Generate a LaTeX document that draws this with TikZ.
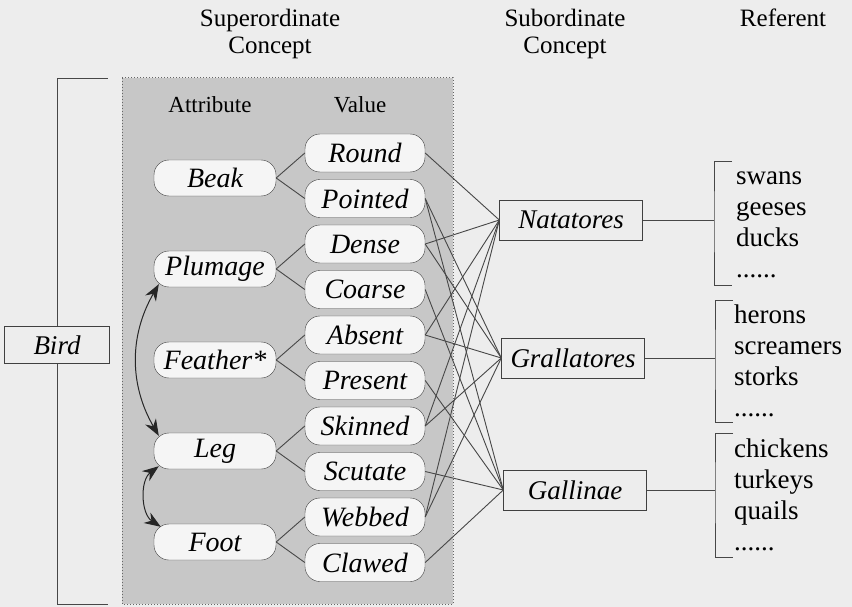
\documentclass[tikz,border=0pt]{standalone}
\usepackage{fontspec}
\setmainfont{Liberation Serif}
\usetikzlibrary{arrows.meta,positioning}

\begin{document}
\begin{tikzpicture}[x=1pt,y=-1pt,node distance=45.5pt,auto]
\tikzstyle{attr}=[rectangle, draw=black!75, fill=black!4, rounded corners=15pt, minimum width=122pt, minimum height=36pt, inner sep=2pt, font=\fontsize{28}{30}\selectfont\itshape]
\tikzstyle{val}=[attr, minimum width=120pt, minimum height=38pt]
\tikzstyle{sub}=[rectangle, draw=black!75, minimum width=143pt, minimum height=40pt, inner sep=2pt, font=\fontsize{27}{30}\selectfont\itshape]
\tikzstyle{head}=[align=center, inner sep=0pt, anchor=north, font=\fontsize{25}{27}\selectfont]
\tikzstyle{referent}=[align=left, inner sep=0pt, anchor=north west, font=\fontsize{27}{31}\selectfont]
\tikzstyle{link}=[draw=black!72, line width=0.9pt]
\tikzstyle{twoway}=[draw=black!85, line width=1pt]

\fill[black!7] (0,0) rectangle (852,607);
\useasboundingbox (0,0) rectangle (852,607);

% shaded block of the superordinate concept
\draw[black!60, dotted, line width=1pt, fill=black!22] (122,78) rectangle (453,604);

\node[head] (superhead) at (270,9) {Superordinate\\Concept};
\node[head] (subhead) at (565,9) {Subordinate\\Concept};
\node[head] (refhead) at (783,9) {Referent};
\node[font=\fontsize{23}{25}\selectfont] (attrhead) at (210,105) {Attribute};
\node[font=\fontsize{23}{25}\selectfont] (valhead) at (360,105) {Value};

\node[sub, minimum width=105pt, minimum height=37pt] (bird) at (57,345) {Bird};
\coordinate (birdtop) at (108,78);
\coordinate (birdbot) at (108,604);
\draw[link] (bird.north) |- (birdtop);
\draw[link] (bird.south) |- (birdbot);

% attributes
\node[attr] (beak) at (215,178) {Beak};
\node[attr, below of=beak, node distance=91pt] (plumage) {Plumage};
\node[attr, below of=plumage, node distance=91pt] (feather) {Feather*};
\node[attr, below of=feather, node distance=91pt] (leg) {Leg};
\node[attr, below of=leg, node distance=91pt] (foot) {Foot};

% values
\node[val] (round) at (365,153) {Round};
\node[val, below of=round] (pointed) {Pointed};
\node[val, below of=pointed] (dense) {Dense};
\node[val, below of=dense] (coarse) {Coarse};
\node[val, below of=coarse] (absent) {Absent};
\node[val, below of=absent] (present) {Present};
\node[val, below of=present] (skinned) {Skinned};
\node[val, below of=skinned] (scutate) {Scutate};
\node[val, below of=scutate] (webbed) {Webbed};
\node[val, below of=webbed] (clawed) {Clawed};

% subordinate concepts
\node[sub] (nat) at (571,220) {Natatores};
\node[sub] (gral) at (573,358) {Grallatores};
\node[sub] (gall) at (575,490) {Gallinae};

\path[link] (beak.east) edge (round.west)
                edge (pointed.west)
          (plumage.east) edge (dense.west)
                edge (coarse.west)
          (feather.east) edge (absent.west)
                edge (present.west)
          (leg.east) edge (skinned.west)
                edge (scutate.west)
          (foot.east) edge (webbed.west)
                edge (clawed.west);

\path[link] (round.east) edge (nat.west)
          (pointed.east) edge (gral.west)
                edge (gall.west)
          (dense.east) edge (nat.west)
                edge (gral.west)
          (coarse.east) edge (gall.west)
          (absent.east) edge (nat.west)
                edge (gral.west)
          (present.east) edge (gall.west)
          (skinned.east) edge (nat.west)
                edge (gral.west)
          (scutate.east) edge (gall.west)
          (webbed.east) edge (nat.west)
                edge (gral.west)
          (clawed.east) edge (gall.west);

\draw[twoway, {Stealth[scale=2.2]}-{Stealth[scale=2.2]}] ([xshift=5pt,yshift=3pt]plumage.south west) to[bend right=30] ([xshift=5pt,yshift=-3pt]leg.north west);
\draw[twoway, {Stealth[scale=2.2]}-{Stealth[scale=2.2]}] ([xshift=5pt,yshift=3pt]leg.south west) to[bend right=55] ([xshift=7pt,yshift=-3pt]foot.north west);

% referents
\coordinate (natmid) at (714,220);
\coordinate (nattop) at (732,161);
\coordinate (natbot) at (732,285);
\draw[link] (nat.east) -- (natmid);
\draw[link] (nattop) -| (natmid) |- (natbot);
\node[referent] (natref) at (736,172) {swans\\geeses\\ducks\\......};

\coordinate (gralmid) at (715,358);
\coordinate (graltop) at (733,300);
\coordinate (gralbot) at (733,422);
\draw[link] (gral.east) -- (gralmid);
\draw[link] (graltop) -| (gralmid) |- (gralbot);
\node[referent] (gralref) at (734,305) {herons\\screamers\\storks\\......};

\coordinate (gallmid) at (715,490);
\coordinate (galltop) at (733,433);
\coordinate (gallbot) at (733,557);
\draw[link] (gall.east) -- (gallmid);
\draw[link] (galltop) -| (gallmid) |- (gallbot);
\node[referent] (gallref) at (734,439) {chickens\\turkeys\\quails\\......};
\end{tikzpicture}
\end{document}
